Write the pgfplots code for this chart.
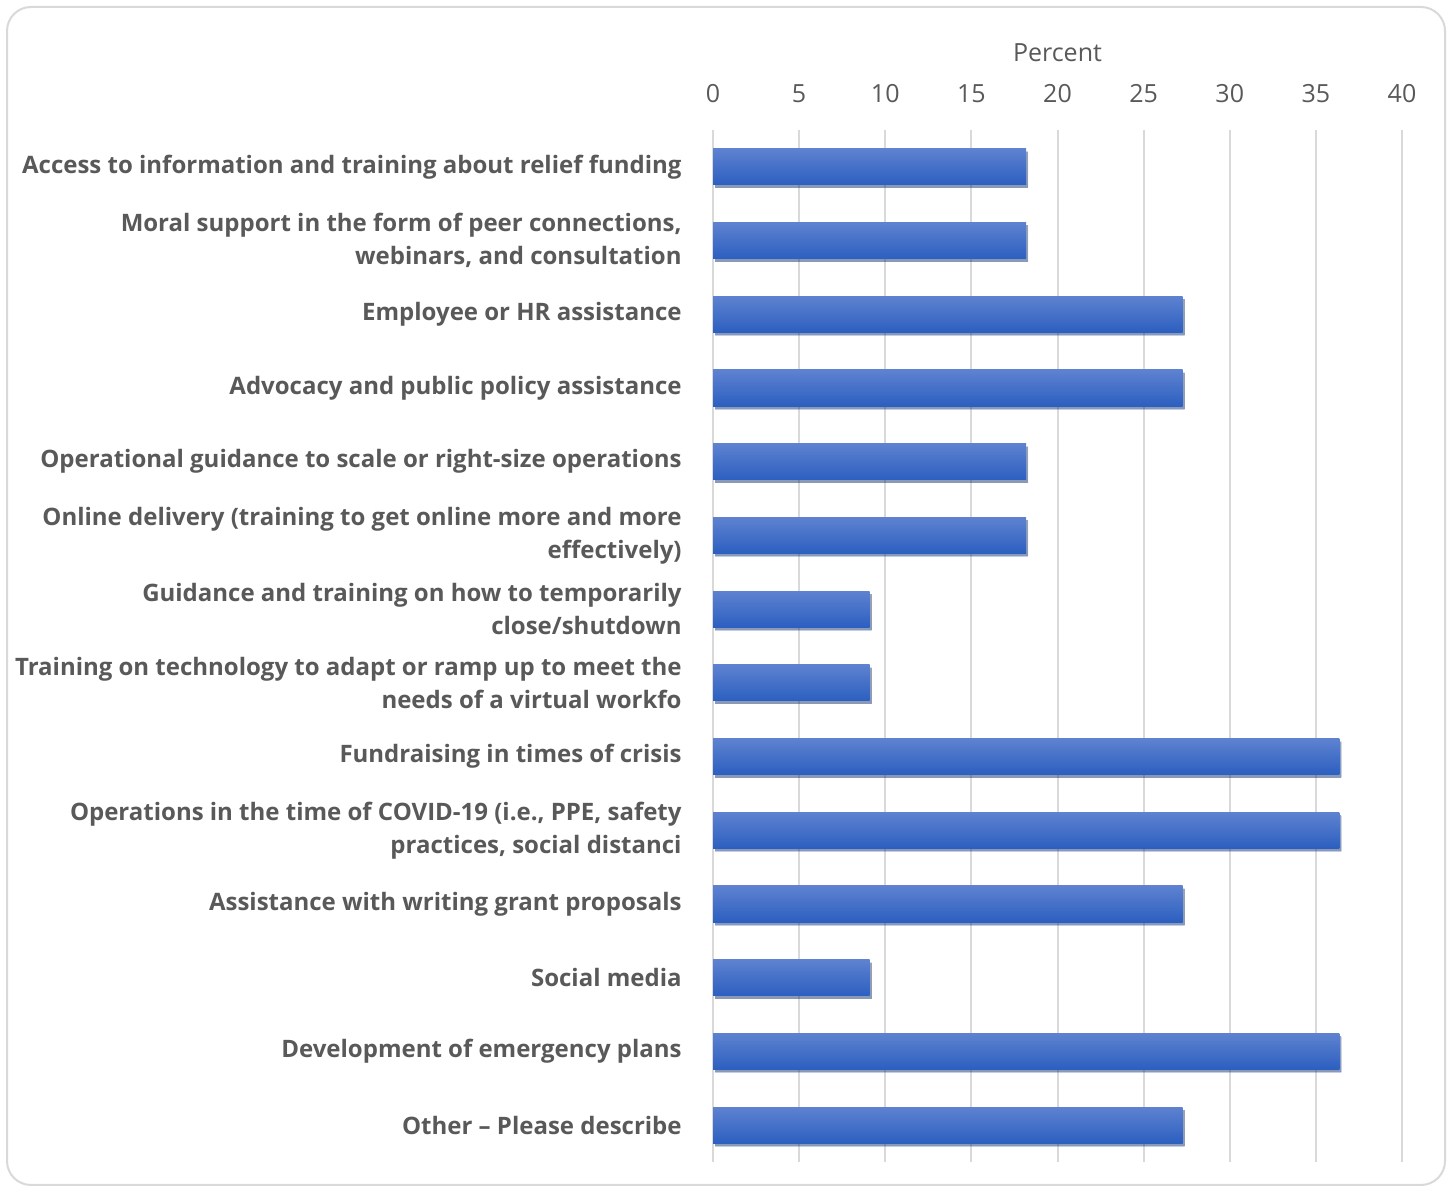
\documentclass[border=0pt]{standalone}
\usepackage{pgfplots}
\pgfplotsset{compat=1.18}
\usepackage{fontspec}
\setmainfont{Open Sans}
\usetikzlibrary{shadows}
\definecolor{txt}{HTML}{595959}
\definecolor{gridc}{HTML}{D9D9D9}
\definecolor{bartop}{HTML}{5E82D0}
\definecolor{barbot}{HTML}{2C5FC0}
\pgfplotsset{mybar/.style={xbar, bar width=0.49, bar shift=0pt, draw=none, top color=bartop, bottom color=barbot,
  drop shadow={opacity=0.3, fill=black, shadow xshift=1bp, shadow yshift=-1.5bp}}}
\begin{document}
\begin{tikzpicture}[x=1bp,y=1bp]
\useasboundingbox (0,0) rectangle (726,594);
\fill[white] (0,0) rectangle (726,594);
\draw[gridc, line width=1bp, rounded corners=12bp] (3.5,1.5) rectangle (722.5,590.5);
\begin{axis}[
  at={(356.5bp,13bp)}, anchor=south west,
  scale only axis, width=344.5bp, height=516bp,
  xmin=0, xmax=40, ymin=-0.5, ymax=13.5,
  y dir=reverse,
  axis x line*=top,
  axis y line*=left,
  axis line style={draw=none},
  xtick={0,5,...,40},
  major tick length=0pt,
  xmajorgrids, grid style={gridc, line width=1bp},
  ytick={0,...,13},
  yticklabels={
 {Access to information and training about relief funding},
 {Moral support in the form of peer connections,\\webinars, and consultation},
 {Employee or HR assistance},
 {Advocacy and public policy assistance},
 {Operational guidance to scale or right-size operations},
 {Online delivery (training to get online more and more\\effectively)},
 {Guidance and training on how to temporarily\\close/shutdown},
 {Training on technology to adapt or ramp up to meet the\\needs of a virtual workfo},
 {Fundraising in times of crisis},
 {Operations in the time of COVID-19 (i.e., PPE, safety\\practices, social distanci},
 {Assistance with writing grant proposals},
 {Social media},
 {Development of emergency plans},
 {Other – Please describe}},
  yticklabel style={align=right, font=\fontsize{12bp}{16.5bp}\selectfont\bfseries, text=txt, inner sep=0pt, xshift=-15.5bp},
  xticklabel style={font=\fontsize{12.5bp}{15bp}\selectfont, text=txt, yshift=10bp},
  xlabel={Percent},
  xlabel style={font=\fontsize{12.5bp}{15bp}\selectfont, text=txt, yshift=4.5bp},
  /pgf/number format/assume math mode=true,
  clip=false,
]
\addplot[mybar] coordinates {(18.18,0)};
\addplot[mybar] coordinates {(18.18,1)};
\addplot[mybar] coordinates {(27.27,2)};
\addplot[mybar] coordinates {(27.27,3)};
\addplot[mybar] coordinates {(18.18,4)};
\addplot[mybar] coordinates {(18.18,5)};
\addplot[mybar] coordinates {(9.09,6)};
\addplot[mybar] coordinates {(9.09,7)};
\addplot[mybar] coordinates {(36.36,8)};
\addplot[mybar] coordinates {(36.36,9)};
\addplot[mybar] coordinates {(27.27,10)};
\addplot[mybar] coordinates {(9.09,11)};
\addplot[mybar] coordinates {(36.36,12)};
\addplot[mybar] coordinates {(27.27,13)};
\end{axis}
\end{tikzpicture}
\end{document}
